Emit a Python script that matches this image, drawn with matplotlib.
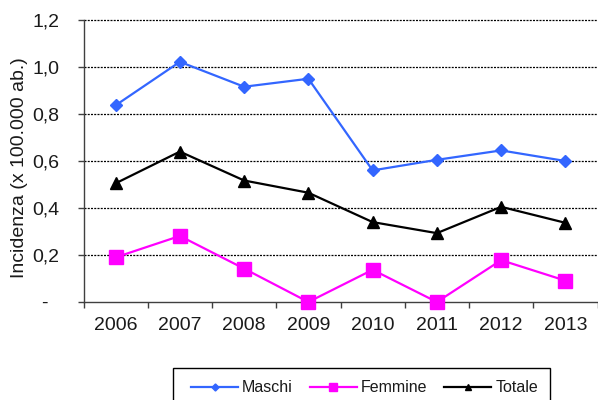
import matplotlib
matplotlib.use("Agg")
import matplotlib.pyplot as plt
from matplotlib.patches import Rectangle
from matplotlib.ticker import FixedLocator, FuncFormatter

years = ["2006", "2007", "2008", "2009", "2010", "2011", "2012", "2013"]
maschi = [0.837, 1.022, 0.916, 0.95, 0.56, 0.605, 0.645, 0.60]
femmine = [0.19, 0.281, 0.142, 0.0, 0.137, 0.0, 0.178, 0.091]
totale = [0.505, 0.64, 0.517, 0.465, 0.34, 0.293, 0.405, 0.337]
yticks = [0.0, 0.2, 0.4, 0.6, 0.8, 1.0, 1.2]

plt.rcParams['font.family'] = ['Liberation Sans', 'DejaVu Sans']
txt = '#1a1a1a'

W, H = 598, 400
fig = plt.figure(figsize=(W / 100, H / 100), dpi=100)
L, R, T, B = 83.5, 597.5, 20, 302
ax = fig.add_axes([L / W, 1 - B / H, (R - L) / W, (B - T) / H])

x = list(range(len(years)))
ax.plot(x, maschi, color='#3366FF', lw=1.6, marker='D', ms=6.5, label='Maschi', clip_on=False, zorder=3)
ax.plot(x, femmine, color='#FF00FF', lw=1.6, marker='s', ms=9.5, label='Femmine', clip_on=False, zorder=3)
ax.plot(x, totale, color='black', lw=1.6, marker='^', ms=8, label='Totale', clip_on=False, zorder=3)

ax.set_xlim(-0.5, len(years) - 0.5)
ax.set_ylim(0, 1.2)

for y in yticks[1:]:
    ax.axhline(y, color='black', lw=0.9, ls=(0, (1.6, 1.0)), zorder=1, clip_on=False)

ax.set_xticks(x)
ax.set_xticklabels(years)
ax.xaxis.set_minor_locator(FixedLocator([i - 0.5 for i in range(len(years) + 1)]))
ax.tick_params(axis='x', which='major', length=0, pad=11, labelsize=14, labelcolor=txt)
ax.tick_params(axis='x', which='minor', length=4, width=1, color='#404040', direction='out')

ax.set_yticks(yticks)
ax.yaxis.set_major_formatter(FuncFormatter(lambda v, p: '-  ' if abs(v) < 1e-9 else f"{v:.1f}".replace('.', ',')))
ax.tick_params(axis='y', length=4.5, width=1, color='#404040', pad=13, labelsize=14, labelcolor=txt)

for s in ['top', 'right']:
    ax.spines[s].set_visible(False)
for s in ['left', 'bottom']:
    ax.spines[s].set_color('#404040')
    ax.spines[s].set_linewidth(1)

ax.set_ylabel('Incidenza (x 100.000 ab.)', fontsize=14, color=txt)
ax.yaxis.label.set_va('center')
ax.yaxis.set_label_coords((19.5 - L) / (R - L), (B - 167.5) / (B - T))

fig.patches.append(Rectangle((173.5 / W, 1 - 420 / H), (550 - 173.5) / W, (420 - 368) / H,
                             transform=fig.transFigure, fill=False, edgecolor='black', lw=1))
fig.legend(loc='center left', bbox_to_anchor=(191 / W, 1 - 388 / H), ncol=3, frameon=False,
           fontsize=11.5, handlelength=2.95, handletextpad=0.25, columnspacing=1.05,
           markerscale=0.55, borderpad=0, borderaxespad=0, labelcolor=txt)

fig.savefig('out.png', dpi=100)
